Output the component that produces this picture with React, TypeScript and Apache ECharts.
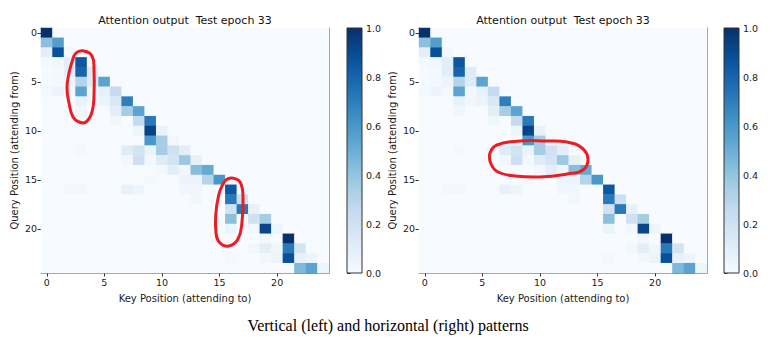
import React, { useEffect, useRef } from "react";
import * as echarts from "echarts";

// ---- data ----
const positions = ["0","1","2","3","4","5","6","7","8","9","10","11","12","13","14","15","16","17","18","19","20","21","22","23","24"];
const tickLabels = ["0", "5", "10", "15", "20"];
const chartTitle = "Attention output  Test epoch 33";
const xName = "Key Position (attending to)";
const yName = "Query Position (attending from)";
const caption = "Vertical (left) and horizontal (right) patterns";
const bluesStops = ["#f7fbff","#deebf7","#c6dbef","#9ecae1","#6baed6","#4292c6","#2171b5","#08519c","#08306b"];

// attention weights, rows = query position, columns = key position
const row00 = [1.00,0,0,0,0, 0,0,0,0,0, 0,0,0,0,0, 0,0,0,0,0, 0,0,0,0,0];
const row01 = [0.42,0.57,0,0,0, 0,0,0,0,0, 0,0,0,0,0, 0,0,0,0,0, 0,0,0,0,0];
const row02 = [0.10,0.88,0.03,0,0, 0,0,0,0,0, 0,0,0,0,0, 0,0,0,0,0, 0,0,0,0,0];
const row03 = [0.02,0.04,0.10,0.85,0, 0,0,0,0,0, 0,0,0,0,0, 0,0,0,0,0, 0,0,0,0,0];
const row04 = [0.01,0.02,0.10,0.80,0.12, 0,0,0,0,0, 0,0,0,0,0, 0,0,0,0,0, 0,0,0,0,0];
const row05 = [0.01,0.02,0.05,0.30,0.12, 0.55,0,0,0,0, 0,0,0,0,0, 0,0,0,0,0, 0,0,0,0,0];
const row06 = [0.02,0.06,0.02,0.55,0.03, 0.08,0.25,0,0,0, 0,0,0,0,0, 0,0,0,0,0, 0,0,0,0,0];
const row07 = [0,0,0,0.07,0.03, 0.06,0.15,0.70,0,0, 0,0,0,0,0, 0,0,0,0,0, 0,0,0,0,0];
const row08 = [0,0,0,0.04,0, 0,0.10,0.35,0.55,0, 0,0,0,0,0, 0,0,0,0,0, 0,0,0,0,0];
const row09 = [0,0,0,0,0, 0,0.04,0,0.25,0.72, 0,0,0,0,0, 0,0,0,0,0, 0,0,0,0,0];
const row10 = [0,0,0,0,0, 0,0,0,0.05,0.93, 0.07,0,0,0,0, 0,0,0,0,0, 0,0,0,0,0];
const row11 = [0,0,0,0,0, 0,0,0,0,0.60, 0.35,0.03,0,0,0, 0,0,0,0,0, 0,0,0,0,0];
const row12 = [0,0,0,0.02,0, 0,0,0.12,0.18,0.06, 0.35,0.20,0.10,0,0, 0,0,0,0,0, 0,0,0,0,0];
const row13 = [0,0,0,0,0, 0,0,0.03,0.21,0.02, 0.12,0.18,0.38,0.08,0, 0,0,0,0,0, 0,0,0,0,0];
const row14 = [0,0,0,0,0, 0,0,0,0,0, 0.02,0.10,0.03,0.43,0.52, 0,0,0,0,0, 0,0,0,0,0];
const row15 = [0,0,0,0,0, 0,0,0,0,0.02, 0,0,0.05,0.06,0.30, 0.60,0,0,0,0, 0,0,0,0,0];
const row16 = [0,0,0.02,0.03,0, 0,0,0.08,0.05,0, 0,0,0.03,0.04,0, 0,0.85,0,0,0, 0,0,0,0,0];
const row17 = [0,0,0,0,0, 0,0,0,0,0, 0,0,0,0.03,0, 0,0.72,0.22,0,0, 0,0,0,0,0];
const row18 = [0,0,0,0,0, 0,0,0,0,0, 0,0,0,0,0, 0,0.20,0.72,0.08,0, 0,0,0,0,0];
const row19 = [0,0,0,0,0, 0,0,0,0,0, 0,0,0,0,0, 0,0.42,0,0.20,0.35, 0,0,0,0,0];
const row20 = [0,0,0,0,0, 0,0,0,0,0, 0,0,0,0,0, 0,0.06,0,0.03,0.92, 0.05,0,0,0,0];
const row21 = [0,0,0,0,0, 0,0,0,0,0, 0,0,0,0,0, 0,0,0,0,0.03, 0,1.00,0,0,0];
const row22 = [0,0,0,0,0, 0,0,0,0,0, 0,0,0,0,0, 0,0,0,0.03,0.10, 0.04,0.72,0.18,0,0];
const row23 = [0,0,0,0,0, 0,0,0,0,0, 0,0,0,0,0, 0,0.02,0,0,0.03, 0.06,0.88,0.08,0.05,0];
const row24 = [0,0,0,0,0, 0,0,0,0,0, 0,0,0,0,0, 0,0,0,0,0, 0,0,0.45,0.55,0.05];
const attentionRows = [row00,row01,row02,row03,row04,row05,row06,row07,row08,row09,row10,row11,row12,row13,row14,row15,row16,row17,row18,row19,row20,row21,row22,row23,row24];
const colorbarTicks = [0, 0.2, 0.4, 0.6, 0.8, 1.0];

// ---- layout (pixels) ----
const TOP = 28;
const H = 245;
const HM_W = 288;
const CB_W = 15;
const panels = [
  {
    hmLeft: 41,
    cbLeft: 347,
    loops: [
      [[76,53],[84,51],[92,56],[94,70],[94,95],[92,112],[86,122],[79,122],[73,117],[69,103],[67,88],[69,73],[72,62]],
      [[226,180],[232,178],[240,182],[243,197],[242,222],[238,239],[229,246],[220,243],[216,233],[216,212],[219,194],[222,186]],
    ],
  },
  {
    hmLeft: 419,
    cbLeft: 724,
    loops: [
      [[497,145],[520,141],[545,141],[567,142],[582,148],[588,159],[583,170],[567,174],[540,177],[515,176],[498,172],[491,164],[490,153]],
    ],
  },
];

const FONT = "DejaVu Sans";
const TXT = "#1a1a1a";
const FRAME = "#8a8a8a";
const LINE = "#333";

export default function App() {
  const ref = useRef<HTMLDivElement>(null);
  useEffect(() => {
    document.body.style.margin = "0";
    if (!ref.current) return;
    const chart = echarts.init(ref.current, undefined, { renderer: "svg" });

    const heatData: number[][] = [];
    attentionRows.forEach((row, y) => row.forEach((v, x) => heatData.push([x, y, v])));

    const grids: any[] = [];
    const xAxes: any[] = [];
    const yAxes: any[] = [];
    const series: any[] = [];
    const graphics: any[] = [];

    const showTick = (_i: number, v: string) => tickLabels.includes(v);

    panels.forEach((p, i) => {
      grids.push({ left: p.hmLeft, top: TOP, width: HM_W, height: H, containLabel: false });
      grids.push({ left: p.cbLeft, top: TOP, width: CB_W, height: H, containLabel: false });
      const g = 2 * i;
      // heatmap x (bottom)
      xAxes.push({
        type: "category", gridIndex: g, data: positions, position: "bottom",
        name: xName, nameLocation: "middle", nameGap: 20,
        nameTextStyle: { fontFamily: FONT, fontSize: 10, color: TXT },
        axisLine: { show: true, lineStyle: { color: FRAME, width: 1 } },
        axisTick: { show: true, alignWithLabel: true, interval: showTick, length: 3.5, lineStyle: { color: LINE } },
        axisLabel: { show: true, interval: showTick, fontFamily: FONT, fontSize: 9.5, color: TXT, margin: 4 },
        splitLine: { show: false },
      });
      // heatmap frame top
      xAxes.push({
        type: "category", gridIndex: g, data: positions, position: "top",
        axisLine: { show: true, lineStyle: { color: FRAME, width: 1 } },
        axisTick: { show: false }, axisLabel: { show: false }, splitLine: { show: false },
      });
      // colorbar x (hidden)
      xAxes.push({ type: "value", gridIndex: g + 1, show: false, min: 0, max: 1 });

      yAxes.push({
        type: "category", gridIndex: g, data: positions, inverse: true, position: "left",
        name: yName, nameLocation: "middle", nameGap: 22, nameRotate: 90,
        nameTextStyle: { fontFamily: FONT, fontSize: 10, color: TXT },
        axisLine: { show: true, lineStyle: { color: FRAME, width: 1 } },
        axisTick: { show: true, alignWithLabel: true, interval: showTick, length: 3.5, lineStyle: { color: LINE } },
        axisLabel: { show: true, interval: showTick, fontFamily: FONT, fontSize: 9.5, color: TXT, margin: 4 },
        splitLine: { show: false },
      });
      yAxes.push({
        type: "category", gridIndex: g, data: positions, inverse: true, position: "right",
        axisLine: { show: true, lineStyle: { color: FRAME, width: 1 } },
        axisTick: { show: false }, axisLabel: { show: false }, splitLine: { show: false },
      });
      yAxes.push({
        type: "value", gridIndex: g + 1, position: "right", min: colorbarTicks[0],
        max: colorbarTicks[colorbarTicks.length - 1], interval: 0.2,
        axisLine: { show: false },
        axisTick: { show: true, length: 3.5, lineStyle: { color: LINE } },
        axisLabel: { show: true, fontFamily: FONT, fontSize: 9.5, color: TXT, margin: 4, formatter: (v: number) => v.toFixed(1) },
        splitLine: { show: false },
      });

      series.push({
        type: "heatmap", xAxisIndex: 3 * i, yAxisIndex: 3 * i, data: heatData,
        itemStyle: { borderWidth: 0 }, emphasis: { disabled: true }, z: 1,
      });

      // colorbar gradient
      graphics.push({
        type: "rect", z: 10,
        shape: { x: p.cbLeft, y: TOP, width: CB_W, height: H },
        style: {
          fill: new echarts.graphic.LinearGradient(0, 1, 0, 0,
            bluesStops.map((c, k) => ({ offset: k / (bluesStops.length - 1), color: c }))),
          stroke: LINE, lineWidth: 1,
        },
      });
      // title
      graphics.push({
        type: "text", z: 10, x: p.hmLeft + HM_W / 2, y: 20,
        style: {
          text: chartTitle, fill: "#111", font: `11px ${FONT}`,
          textAlign: "center", textVerticalAlign: "middle", align: "center", verticalAlign: "middle",
        },
      });
      // hand-drawn loops
      p.loops.forEach((pts) => {
        graphics.push({
          type: "polygon", z: 20,
          shape: { points: pts, smooth: 0.45 },
          style: { fill: "none", stroke: "#ec1c24", lineWidth: 3 },
        });
      });
    });

    graphics.push({
      type: "text", z: 10, x: 388, y: 325,
      style: {
        text: caption, fill: "#000", font: `16px "Liberation Serif"`,
        textAlign: "center", textVerticalAlign: "middle", align: "center", verticalAlign: "middle",
      },
    });

    chart.setOption({
      animation: false,
      backgroundColor: "#ffffff",
      grid: grids,
      xAxis: xAxes,
      yAxis: yAxes,
      visualMap: [{
        type: "continuous", min: 0, max: 1, show: false, seriesIndex: [0, 1],
        inRange: { color: bluesStops },
      }],
      series,
      graphic: graphics,
    });
    return () => chart.dispose();
  }, []);
  return <div ref={ref} style={{ width: 776, height: 352 }} />;
}
